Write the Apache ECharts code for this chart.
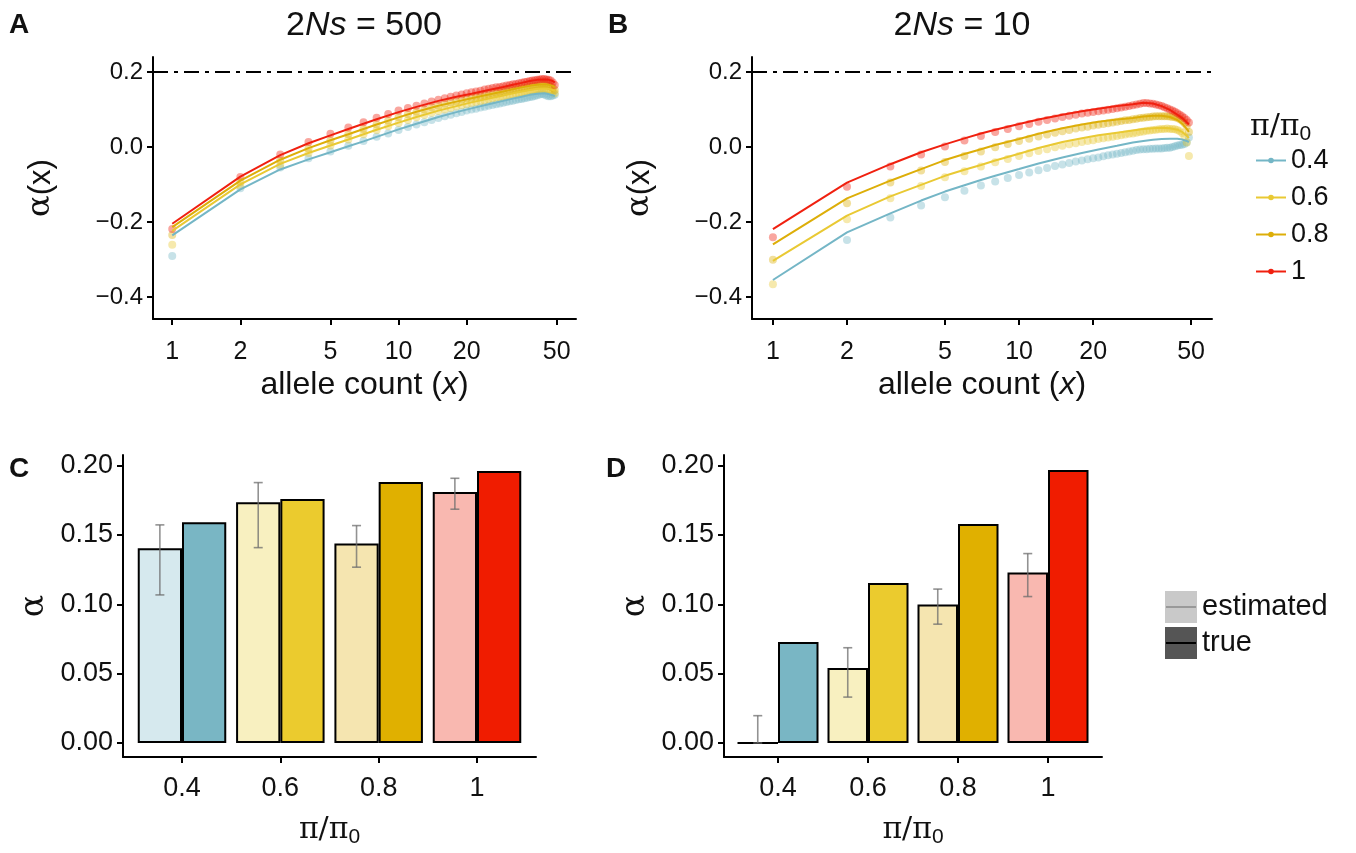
<!DOCTYPE html>
<html>
<head>
<meta charset="utf-8">
<script src="https://cdn.jsdelivr.net/npm/echarts@6/dist/echarts.min.js"></script>
<style>html,body{margin:0;padding:0;background:#fff}#c{width:1356px;height:853px}</style>
</head>
<body>
<div id="c"></div>
<script>
// ---------- data ----------
const PI_LEVELS = ['0.4', '0.6', '0.8', '1'];
const X_TICKS = [1, 2, 5, 10, 20, 50];
const Y_TICKS_TOP = [-0.4, -0.2, 0, 0.2];
const Y_TICKS_BAR = [0, 0.05, 0.10, 0.15, 0.20];
const ALPHA_TRUE_LINE = 0.2;

const LINE_X = [1,2,3,4,5,6,7,8,10,12,15,18,21,25,29,32,35,38,41,44,46,48,49];
const DOT_X = [1,2,3,4,5,6,7,8,9,10,11,12,13,14,15,16,17,18,19,20,21,22,23,24,25,26,27,28,29,30,31,32,33,34,35,36,37,38,39,40,41,42,43,44,45,46,47,48,49];

// Panel A (2Ns = 500) fitted lines
const A_LINE_04 = [-0.236,-0.113,-0.060,-0.033,-0.014,0.002,0.015,0.027,0.047,0.062,0.080,0.093,0.103,0.114,0.123,0.129,0.134,0.139,0.142,0.143,0.141,0.138,0.135];
const A_LINE_06 = [-0.224,-0.100,-0.045,-0.016,0.004,0.020,0.034,0.046,0.065,0.080,0.097,0.109,0.119,0.129,0.137,0.143,0.148,0.152,0.155,0.156,0.155,0.152,0.149];
const A_LINE_08 = [-0.214,-0.090,-0.034,-0.003,0.018,0.034,0.048,0.060,0.079,0.094,0.110,0.121,0.130,0.140,0.148,0.154,0.159,0.163,0.166,0.167,0.166,0.163,0.159];
const A_LINE_1  = [-0.205,-0.079,-0.022,0.010,0.031,0.048,0.062,0.074,0.093,0.107,0.123,0.134,0.142,0.152,0.160,0.166,0.171,0.176,0.179,0.180,0.179,0.176,0.172];
// Panel A points
const A_DOT_04 = [-0.291,-0.110,-0.055,-0.030,-0.012,0.003,0.016,0.027,0.036,0.045,0.053,0.060,0.066,0.072,0.077,0.082,0.086,0.090,0.093,0.097,0.100,0.102,0.105,0.107,0.110,0.112,0.114,0.116,0.118,0.120,0.122,0.123,0.125,0.127,0.128,0.130,0.131,0.133,0.134,0.136,0.138,0.140,0.141,0.140,0.137,0.135,0.135,0.137,0.139];
const A_DOT_06 = [-0.261,-0.104,-0.048,-0.016,0.004,0.020,0.034,0.045,0.055,0.064,0.072,0.079,0.085,0.091,0.096,0.100,0.104,0.108,0.111,0.114,0.117,0.120,0.122,0.124,0.127,0.129,0.131,0.133,0.134,0.136,0.138,0.139,0.141,0.142,0.144,0.145,0.146,0.148,0.149,0.150,0.151,0.152,0.153,0.153,0.152,0.151,0.149,0.147,0.143];
const A_DOT_08 = [-0.235,-0.093,-0.036,-0.004,0.017,0.034,0.048,0.060,0.070,0.079,0.087,0.094,0.100,0.106,0.110,0.115,0.119,0.122,0.126,0.129,0.131,0.134,0.136,0.138,0.140,0.142,0.144,0.146,0.148,0.150,0.151,0.153,0.154,0.156,0.157,0.158,0.160,0.161,0.162,0.163,0.164,0.165,0.166,0.166,0.165,0.164,0.162,0.158,0.152];
const A_DOT_1  = [-0.219,-0.080,-0.020,0.013,0.035,0.052,0.066,0.078,0.088,0.097,0.104,0.110,0.116,0.121,0.126,0.130,0.134,0.137,0.140,0.143,0.146,0.148,0.150,0.153,0.155,0.157,0.159,0.160,0.162,0.164,0.165,0.167,0.168,0.170,0.171,0.173,0.174,0.176,0.177,0.178,0.179,0.180,0.181,0.181,0.180,0.179,0.177,0.172,0.165];

// Panel B (2Ns = 10) fitted lines
const B_LINE_04 = [-0.355,-0.228,-0.177,-0.143,-0.119,-0.102,-0.088,-0.077,-0.059,-0.044,-0.028,-0.016,-0.007,0.003,0.012,0.016,0.019,0.021,0.022,0.022,0.020,0.016,0.013];
const B_LINE_06 = [-0.304,-0.183,-0.132,-0.101,-0.077,-0.061,-0.048,-0.036,-0.018,-0.003,0.013,0.023,0.031,0.038,0.044,0.048,0.050,0.051,0.050,0.046,0.040,0.030,0.024];
const B_LINE_08 = [-0.260,-0.137,-0.090,-0.059,-0.035,-0.019,-0.006,0.005,0.021,0.035,0.050,0.060,0.067,0.073,0.077,0.081,0.083,0.083,0.080,0.072,0.062,0.048,0.040];
const B_LINE_1  = [-0.219,-0.095,-0.046,-0.014,0.007,0.023,0.036,0.046,0.061,0.073,0.086,0.095,0.102,0.109,0.114,0.118,0.116,0.109,0.099,0.086,0.077,0.066,0.060];
// Panel B points (null = outside the plotted range)
const B_DOT_04 = [null,-0.248,-0.188,-0.156,-0.134,-0.117,-0.103,-0.092,-0.083,-0.075,-0.068,-0.062,-0.056,-0.051,-0.047,-0.043,-0.039,-0.036,-0.033,-0.030,-0.028,-0.025,-0.022,-0.020,-0.018,-0.016,-0.014,-0.012,-0.010,-0.008,-0.007,-0.006,-0.006,-0.005,-0.005,-0.004,-0.004,-0.004,-0.003,-0.002,-0.002,0.000,0.002,0.004,0.005,0.006,0.008,0.012,0.025];
const B_DOT_06 = [-0.366,-0.193,-0.137,-0.104,-0.081,-0.065,-0.052,-0.041,-0.032,-0.024,-0.017,-0.011,-0.006,-0.001,0.003,0.007,0.010,0.013,0.016,0.018,0.021,0.023,0.025,0.027,0.029,0.031,0.033,0.035,0.036,0.038,0.040,0.041,0.043,0.044,0.045,0.046,0.047,0.048,0.048,0.049,0.048,0.048,0.047,0.045,0.042,0.037,0.028,0.012,-0.024];
const B_DOT_08 = [-0.301,-0.150,-0.095,-0.063,-0.040,-0.024,-0.012,-0.001,0.008,0.016,0.022,0.028,0.033,0.038,0.042,0.045,0.049,0.052,0.054,0.057,0.059,0.061,0.063,0.065,0.067,0.069,0.071,0.072,0.074,0.075,0.077,0.078,0.079,0.080,0.081,0.082,0.082,0.082,0.082,0.082,0.081,0.080,0.079,0.077,0.074,0.070,0.064,0.055,0.040];
const B_DOT_1  = [-0.241,-0.106,-0.052,-0.020,0.001,0.017,0.029,0.040,0.048,0.055,0.061,0.067,0.072,0.076,0.080,0.083,0.086,0.089,0.091,0.093,0.095,0.097,0.099,0.101,0.103,0.105,0.107,0.109,0.111,0.113,0.115,0.117,0.117,0.116,0.115,0.113,0.111,0.109,0.106,0.103,0.100,0.097,0.094,0.090,0.086,0.082,0.077,0.072,0.065];

// Panels C and D: alpha estimated (with error bars) vs true
const C_EST    = [0.1405, 0.1736, 0.1438, 0.1811];
const C_EST_LO = [0.1068, 0.1409, 0.1268, 0.1686];
const C_EST_HI = [0.1573, 0.1878, 0.1568, 0.1909];
const C_TRUE   = [0.1592, 0.1760, 0.1883, 0.1962];
const D_EST    = [0.0000, 0.0540, 0.0999, 0.1229];
const D_EST_LO = [0.0000, 0.0331, 0.0857, 0.1056];
const D_EST_HI = [0.0197, 0.0687, 0.1110, 0.1366];
const D_TRUE   = [0.0728, 0.1153, 0.1580, 0.1969];

// ---------- style ----------
const LINE_COLORS = ['#74b6c6', '#e9c933', '#ddae08', '#f0200f'];
const DOT_COLORS  = ['rgba(116,182,198,0.5)', 'rgba(233,201,51,0.5)', 'rgba(221,174,8,0.5)', 'rgba(240,32,15,0.5)'];
const EST_COLORS  = ['#d6e9ee', '#f8f0c0', '#f5e5b0', '#f9b8b0'];
const TRUE_COLORS = ['#79b6c4', '#ebcb2e', '#e0b000', '#f01c00'];
const FONT = '"Liberation Sans", Arial, Helvetica, sans-serif';
const SERIF = '"DejaVu Serif", "Liberation Serif", serif';
const INK = '#111';

const chart = echarts.init(document.getElementById('c'), null, {renderer: 'canvas'});

const L10 = Math.log10;
const fmtTop = v => (Math.abs(v) < 1e-9 ? '0.0' : (v < 0 ? '\u2212' : '') + Math.abs(v).toFixed(1));
const fmtBar = v => v.toFixed(2);

const piRich = {
  p: {fontSize: 30, fontFamily: SERIF, fontWeight: 'normal', color: INK, lineHeight: 35},
  s: {fontSize: 21, fontFamily: FONT, fontWeight: 'normal', color: INK, verticalAlign: 'bottom', lineHeight: 21}
};

function xLogAxis(gi) {
  return {
    type: 'value', gridIndex: gi, min: -0.085, max: 1.784,
    axisLine: {show: true, onZero: false, lineStyle: {color: '#000', width: 2}},
    axisTick: {show: true, length: 6, lineStyle: {color: '#000', width: 2}, customValues: X_TICKS.map(L10)},
    axisLabel: {show: true, margin: 21, fontSize: 25, color: INK, fontFamily: FONT,
      customValues: X_TICKS.map(L10), formatter: v => String(Math.round(Math.pow(10, v)))},
    splitLine: {show: false},
    name: '{n|allele count (}{i|x}{n|)}', nameLocation: 'middle', nameGap: 50,
    nameTextStyle: {rich: {n: {fontSize: 32, fontFamily: FONT, color: INK}, i: {fontSize: 32, fontFamily: FONT, fontStyle: 'italic', color: INK}}}
  };
}
function yTopAxis(gi) {
  return {
    type: 'value', gridIndex: gi, min: -0.459, max: 0.24,
    axisLine: {show: true, onZero: false, lineStyle: {color: '#000', width: 2}},
    axisTick: {show: true, length: 6, lineStyle: {color: '#000', width: 2}, customValues: Y_TICKS_TOP},
    axisLabel: {show: true, margin: 10, fontSize: 24, color: INK, fontFamily: FONT, customValues: Y_TICKS_TOP, formatter: fmtTop},
    splitLine: {show: false},
    name: '{a|\u03b1}{n|(x)}', nameLocation: 'middle', nameGap: 96, nameRotate: 90,
    nameTextStyle: {rich: {a: {fontSize: 32, fontFamily: SERIF, color: INK}, n: {fontSize: 31, fontFamily: FONT, color: INK}}}
  };
}
function xCatAxis(gi) {
  return {
    type: 'value', gridIndex: gi, min: 0.4, max: 4.6,
    axisLine: {show: true, onZero: false, lineStyle: {color: '#000', width: 2}},
    axisTick: {show: true, length: 6, lineStyle: {color: '#000', width: 2}, customValues: [1, 2, 3, 4]},
    axisLabel: {show: true, margin: 18, fontSize: 27, color: INK, fontFamily: FONT, customValues: [1, 2, 3, 4],
      formatter: v => PI_LEVELS[Math.round(v) - 1]},
    splitLine: {show: false},
    name: '{p|\u03c0/\u03c0}{s|0}', nameLocation: 'middle', nameGap: 56,
    nameTextStyle: {rich: piRich}
  };
}
function yBarAxis(gi) {
  return {
    type: 'value', gridIndex: gi, min: -0.0101, max: 0.2077,
    axisLine: {show: true, onZero: false, lineStyle: {color: '#000', width: 2}},
    axisTick: {show: true, length: 6, lineStyle: {color: '#000', width: 2}, customValues: Y_TICKS_BAR},
    axisLabel: {show: true, margin: 10, fontSize: 27, color: INK, fontFamily: FONT, customValues: Y_TICKS_BAR, formatter: fmtBar},
    splitLine: {show: false},
    name: '\u03b1', nameLocation: 'middle', nameGap: 72, nameRotate: 90,
    nameTextStyle: {fontSize: 33, fontFamily: SERIF, color: INK}
  };
}

function lineSeries(name, gi, xs, ys, color, withRef) {
  const s = {
    type: 'line', name: name, xAxisIndex: gi, yAxisIndex: gi, z: 3,
    data: xs.map((x, i) => [L10(x), ys[i]]),
    symbol: 'circle', symbolSize: 6, showSymbol: false,
    lineStyle: {color: color, width: 2}, itemStyle: {color: color},
    silent: true, animation: false
  };
  if (withRef) {
    s.markLine = {silent: true, symbol: 'none', label: {show: false}, animation: false,
      lineStyle: {color: '#000', width: 2.2, type: [15, 6, 4, 6]}, data: [{yAxis: ALPHA_TRUE_LINE}]};
  }
  return s;
}
function dotSeries(name, gi, xs, ys, color) {
  const data = [];
  xs.forEach((x, i) => { if (ys[i] !== null) data.push([L10(x), ys[i]]); });
  return {type: 'scatter', name: name, xAxisIndex: gi, yAxisIndex: gi, z: 2,
    data: data, symbol: 'circle', symbolSize: 8, itemStyle: {color: color}, silent: true, animation: false};
}
function barSeries(name, gi, vals, colors) {
  return {type: 'bar', name: name, xAxisIndex: gi, yAxisIndex: gi, barWidth: '45%', barGap: '0%',
    data: vals.map((v, i) => ({value: [i + 1, v], itemStyle: {color: colors[i]}})),
    itemStyle: {borderColor: '#000', borderWidth: 2}, silent: true, animation: false};
}
function errSeries(gi, lo, hi) {
  return {type: 'custom', xAxisIndex: gi, yAxisIndex: gi, z: 5, silent: true, animation: false,
    data: lo.map((l, i) => [i + 1 - 0.225, l, hi[i]]),
    renderItem: function (params, api) {
      const pHi = api.coord([api.value(0), api.value(2)]);
      const pLo = api.coord([api.value(0), api.value(1)]);
      const w = 4.5;
      const st = {stroke: 'rgba(110,110,110,0.75)', lineWidth: 1.6, fill: null};
      return {type: 'group', children: [
        {type: 'line', shape: {x1: pHi[0], y1: pHi[1], x2: pLo[0], y2: pLo[1]}, style: st},
        {type: 'line', shape: {x1: pHi[0] - w, y1: pHi[1], x2: pHi[0] + w, y2: pHi[1]}, style: st},
        {type: 'line', shape: {x1: pLo[0] - w, y1: pLo[1], x2: pLo[0] + w, y2: pLo[1]}, style: st}
      ]};
    }};
}

const A_LINES = [A_LINE_04, A_LINE_06, A_LINE_08, A_LINE_1];
const A_DOTS = [A_DOT_04, A_DOT_06, A_DOT_08, A_DOT_1];
const B_LINES = [B_LINE_04, B_LINE_06, B_LINE_08, B_LINE_1];
const B_DOTS = [B_DOT_04, B_DOT_06, B_DOT_08, B_DOT_1];

const series = [];
PI_LEVELS.forEach((lv, k) => series.push(lineSeries(lv, 0, LINE_X, A_LINES[k], LINE_COLORS[k], k === 0)));
PI_LEVELS.forEach((lv, k) => series.push(lineSeries(lv, 1, LINE_X, B_LINES[k], LINE_COLORS[k], k === 0)));
PI_LEVELS.forEach((lv, k) => series.push(dotSeries(lv, 0, DOT_X, A_DOTS[k], DOT_COLORS[k])));
PI_LEVELS.forEach((lv, k) => series.push(dotSeries(lv, 1, DOT_X, B_DOTS[k], DOT_COLORS[k])));
series.push(barSeries('estimated', 2, C_EST, EST_COLORS));
series.push(barSeries('true', 2, C_TRUE, TRUE_COLORS));
series.push(errSeries(2, C_EST_LO, C_EST_HI));
series.push(barSeries('estimated', 3, D_EST, EST_COLORS));
series.push(barSeries('true', 3, D_TRUE, TRUE_COLORS));
series.push(errSeries(3, D_EST_LO, D_EST_HI));

const titleRich = {
  n: {fontSize: 34, fontFamily: FONT, fontWeight: 'normal', color: INK},
  i: {fontSize: 34, fontFamily: FONT, fontWeight: 'normal', fontStyle: 'italic', color: INK}
};
const letterStyle = {fontSize: 28, fontWeight: 'bold', fontFamily: FONT, color: INK};

const option = {
  backgroundColor: '#fff',
  animation: false,
  textStyle: {fontFamily: FONT},
  grid: [
    {left: 153, top: 57, width: 423, height: 262, outerBoundsMode: 'none'},
    {left: 752, top: 57, width: 460, height: 262, outerBoundsMode: 'none'},
    {left: 123, top: 455, width: 413, height: 302, outerBoundsMode: 'none'},
    {left: 724, top: 455, width: 378, height: 302, outerBoundsMode: 'none'}
  ],
  xAxis: [xLogAxis(0), xLogAxis(1), xCatAxis(2), xCatAxis(3)],
  yAxis: [yTopAxis(0), yTopAxis(1), yBarAxis(2), yBarAxis(3)],
  title: [
    {text: 'A', left: 9, top: 11, padding: 0, textStyle: letterStyle},
    {text: 'B', left: 608, top: 11, padding: 0, textStyle: letterStyle},
    {text: 'C', left: 9, top: 455, padding: 0, textStyle: letterStyle},
    {text: 'D', left: 606, top: 455, padding: 0, textStyle: letterStyle},
    {text: '{n|2}{i|Ns}{n| = 500}', left: 364, top: 9, padding: 0, textAlign: 'center', textStyle: {fontWeight: 'normal', rich: titleRich}},
    {text: '{n|2}{i|Ns}{n| = 10}', left: 962, top: 9, padding: 0, textAlign: 'center', textStyle: {fontWeight: 'normal', rich: titleRich}},
    {text: '{p|\u03c0/\u03c0}{s|0}', left: 1250, top: 110, padding: 0, textStyle: {fontWeight: 'normal', rich: piRich}}
  ],
  legend: [
    {data: PI_LEVELS, orient: 'vertical', left: 1255, top: 147, padding: 0, itemWidth: 30, itemHeight: 7, itemGap: 10,
      textStyle: {fontSize: 27, fontFamily: FONT, color: INK, lineHeight: 26}, selectedMode: false},
    {data: [{name: 'estimated', icon: 'rect', itemStyle: {color: '#c9c9c9', borderWidth: 0}},
            {name: 'true', icon: 'rect', itemStyle: {color: '#555555', borderWidth: 0}}],
      orient: 'vertical', left: 1165, top: 591, padding: 0, itemWidth: 32, itemHeight: 32, itemGap: 4,
      textStyle: {fontSize: 29, fontFamily: FONT, color: INK}, selectedMode: false}
  ],
  graphic: [
    {type: 'line', shape: {x1: 1166, y1: 607, x2: 1196, y2: 607}, style: {stroke: '#999', lineWidth: 2}, z: 100},
    {type: 'line', shape: {x1: 1166, y1: 643, x2: 1196, y2: 643}, style: {stroke: '#000', lineWidth: 2}, z: 100}
  ],
  series: series
};
chart.setOption(option);
</script>
</body>
</html>
